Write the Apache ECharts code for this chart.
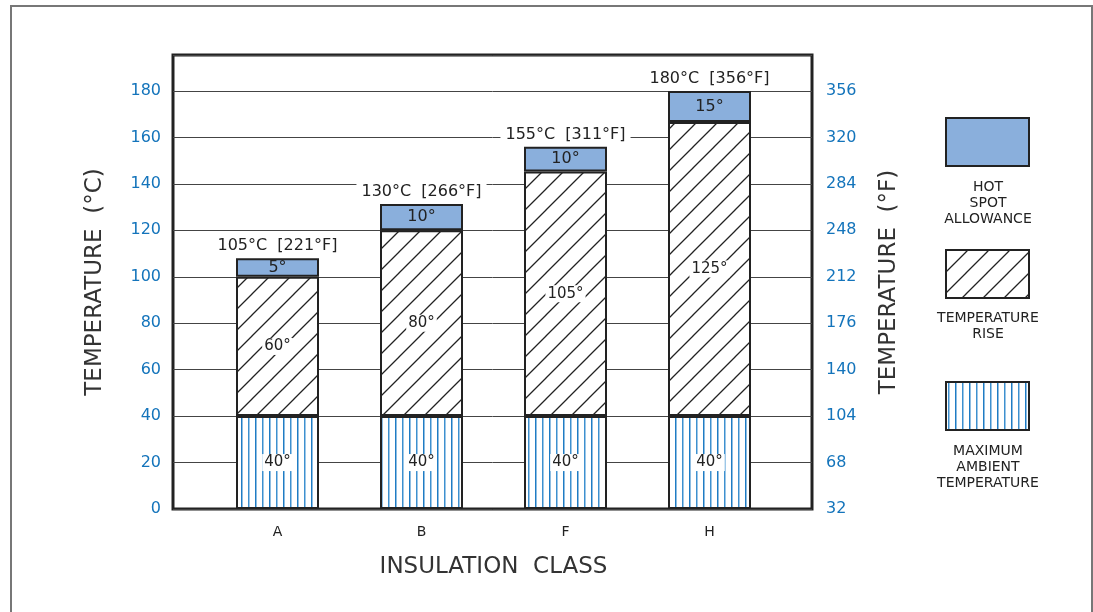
<!DOCTYPE html>
<html>
<head>
<meta charset="utf-8">
<script src="https://cdn.jsdelivr.net/npm/echarts@6/dist/echarts.min.js"></script>
<style>
  html, body { margin: 0; padding: 0; background: #fff; }
  #chart { width: 1093px; height: 612px; }
</style>
</head>
<body>
<div id="chart"></div>
<script>
// insulation classes and stacked parts (degrees C, as drawn)
const classes = ['A', 'B', 'F', 'H']
const ambient = [40, 40, 40, 40]
const rise = [60, 80, 105.3, 126.7]
const hotSpot = [8, 11.3, 10.7, 13.3]
// printed labels
const ambientLabels = [40, 40, 40, 40]
const riseLabels = [60, 80, 105, 125]
const hotSpotLabels = [5, 10, 10, 15]
const limitC = [105, 130, 155, 180]
const limitF = [221, 266, 311, 356]
// right axis tick labels (°F) for 0,20,...,180 °C
const fahrenheitTicks = [32, 68, 104, 140, 176, 212, 248, 284, 320, 356]

const FONT = '"DejaVu Sans", sans-serif'
const BLUE_TXT = '#1474bb'
const HOT_FILL = '#8aafdc'

// diagonal hatch pattern
function hatchPattern() {
  const s = 21
  const c = document.createElement('canvas')
  c.width = s; c.height = s
  const g = c.getContext('2d')
  g.fillStyle = '#fff'
  g.fillRect(0, 0, s, s)
  g.strokeStyle = '#222'
  g.lineWidth = 1.3
  g.beginPath()
  g.moveTo(-2, s + 2); g.lineTo(s + 2, -2)
  g.moveTo(-2, 2); g.lineTo(2, -2)
  g.moveTo(s - 2, s + 2); g.lineTo(s + 2, s - 2)
  g.stroke()
  return c
}

// vertical blue stripes
function stripePattern() {
  const c = document.createElement('canvas')
  c.width = 14; c.height = 10
  const g = c.getContext('2d')
  g.fillStyle = '#fff'
  g.fillRect(0, 0, 14, 10)
  g.fillStyle = '#1f7cc4'
  g.fillRect(3, 0, 1.5, 10)
  g.fillStyle = '#3d90cf'
  g.fillRect(10, 0, 1.5, 10)
  return c
}

const hatch = {image: hatchPattern(), repeat: 'repeat'}
const stripes = {image: stripePattern(), repeat: 'repeat'}

const totals = classes.map((_, i) => ambient[i] + rise[i] + hotSpot[i])

const chart = echarts.init(document.getElementById('chart'))

const barBorder = {borderColor: '#222', borderWidth: 2}
const inLabel = {
  show: true,
  position: 'inside',
  fontFamily: FONT,
  fontSize: 15,
  color: '#222'
}

const option = {
  animation: false,
  backgroundColor: '#fff',
  grid: [
    {left: 173, right: 281, top: 55, bottom: 103, show: true, borderColor: '#222', borderWidth: 3, backgroundColor: 'transparent'},
    {left: 205.5, right: 311.5, top: 55, bottom: 103}
  ],
  xAxis: [
    {gridIndex: 0, type: 'category', data: classes, show: false},
    {
      gridIndex: 1,
      type: 'category',
      data: classes,
      axisLine: {show: false},
      axisTick: {show: false},
      axisLabel: {fontFamily: FONT, fontSize: 14, color: '#222', margin: 16},
      name: 'INSULATION  CLASS',
      nameLocation: 'middle',
      nameGap: 47,
      nameTextStyle: {fontFamily: FONT, fontSize: 23, color: '#333'}
    }
  ],
  yAxis: [
    {
      gridIndex: 0,
      type: 'value',
      min: 0,
      max: 195.5,
      interval: 20,
      axisLine: {show: false},
      axisTick: {show: false},
      axisLabel: {fontFamily: FONT, fontSize: 16, color: BLUE_TXT, margin: 12, showMaxLabel: false},
      splitLine: {lineStyle: {color: '#444', width: 1}},
      name: 'TEMPERATURE  (°C)',
      nameLocation: 'middle',
      nameRotate: 90,
      nameGap: 66,
      nameTextStyle: {fontFamily: FONT, fontSize: 23, color: '#333'}
    },
    {
      gridIndex: 0,
      type: 'value',
      position: 'right',
      min: 0,
      max: 195.5,
      interval: 20,
      axisLine: {show: false},
      axisTick: {show: false},
      splitLine: {show: false},
      axisLabel: {
        fontFamily: FONT, fontSize: 16, color: BLUE_TXT, margin: 14, showMaxLabel: false,
        formatter: v => {
          const k = Math.round(v / 20)
          return fahrenheitTicks[k] !== undefined ? String(fahrenheitTicks[k]) : ''
        }
      },
      name: 'TEMPERATURE  (°F)',
      nameLocation: 'middle',
      nameRotate: 90,
      nameGap: 66,
      nameTextStyle: {fontFamily: FONT, fontSize: 23, color: '#333'}
    },
    {gridIndex: 1, type: 'value', min: 0, max: 195.5, show: false}
  ],
  series: [
    {
      name: 'MAXIMUM AMBIENT TEMPERATURE',
      type: 'bar',
      xAxisIndex: 1,
      yAxisIndex: 2,
      stack: 'total',
      barWidth: 83,
      data: ambient,
      itemStyle: Object.assign({color: stripes}, barBorder),
      label: Object.assign({}, inLabel, {
        backgroundColor: '#fff',
        padding: [1, 2],
        formatter: p => ambientLabels[p.dataIndex] + '°'
      })
    },
    {
      name: 'TEMPERATURE RISE',
      type: 'bar',
      xAxisIndex: 1,
      yAxisIndex: 2,
      stack: 'total',
      barWidth: 83,
      data: rise,
      itemStyle: Object.assign({color: hatch}, barBorder),
      label: Object.assign({}, inLabel, {
        backgroundColor: '#fff',
        padding: [1, 2],
        formatter: p => riseLabels[p.dataIndex] + '°'
      })
    },
    {
      name: 'HOT SPOT ALLOWANCE',
      type: 'bar',
      xAxisIndex: 1,
      yAxisIndex: 2,
      stack: 'total',
      barWidth: 83,
      data: hotSpot,
      itemStyle: Object.assign({color: HOT_FILL}, barBorder),
      label: Object.assign({}, inLabel, {
        fontSize: 16,
        formatter: p => hotSpotLabels[p.dataIndex] + '°'
      })
    },
    {
      type: 'scatter',
      xAxisIndex: 1,
      yAxisIndex: 2,
      symbolSize: 0,
      data: totals,
      z: 5,
      itemStyle: {opacity: 1},
      label: {
        show: true,
        position: 'top',
        distance: 3,
        fontFamily: FONT,
        fontSize: 16,
        color: '#222',
        backgroundColor: '#fff',
        padding: [1, 5],
        formatter: p => limitC[p.dataIndex] + '°C  [' + limitF[p.dataIndex] + '°F]'
      }
    }
  ],
  graphic: [
    {type: 'rect', shape: {x: 11, y: 6, width: 1081, height: 640}, style: {fill: 'none', stroke: '#777', lineWidth: 2}, silent: true},
    {type: 'rect', shape: {x: 946, y: 118, width: 83, height: 48}, style: {fill: HOT_FILL, stroke: '#222', lineWidth: 2}},
    {type: 'text', x: 988, y: 179, style: {text: 'HOT\nSPOT\nALLOWANCE', fontFamily: FONT, fontSize: 14, lineHeight: 16, fill: '#222', align: 'center'}},
    {type: 'rect', shape: {x: 946, y: 250, width: 83, height: 48}, style: {fill: hatch, stroke: '#222', lineWidth: 2}},
    {type: 'text', x: 988, y: 310, style: {text: 'TEMPERATURE\nRISE', fontFamily: FONT, fontSize: 14, lineHeight: 16, fill: '#222', align: 'center'}},
    {type: 'rect', shape: {x: 946, y: 382, width: 83, height: 48}, style: {fill: stripes, stroke: '#222', lineWidth: 2}},
    {type: 'text', x: 988, y: 443, style: {text: 'MAXIMUM\nAMBIENT\nTEMPERATURE', fontFamily: FONT, fontSize: 14, lineHeight: 16, fill: '#222', align: 'center'}}
  ]
}

chart.setOption(option)
window.addEventListener('resize', () => chart.resize())
</script>
</body>
</html>
